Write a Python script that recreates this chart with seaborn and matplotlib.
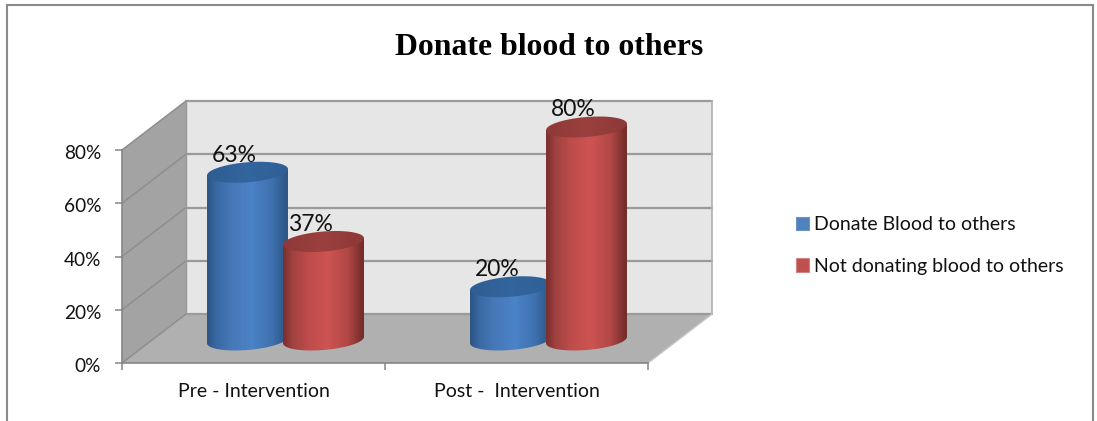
import numpy as np
import pandas as pd
import matplotlib
matplotlib.use("Agg")
import matplotlib.pyplot as plt
from matplotlib.colors import LinearSegmentedColormap
from matplotlib.patches import Polygon, Rectangle
from matplotlib.ticker import PercentFormatter
from matplotlib.transforms import ScaledTranslation
import seaborn as sns

phases = ["Pre - Intervention", "Post -  Intervention"]
donate = [0.63, 0.20]
not_donate = [0.37, 0.80]
series_names = ["Donate Blood to others", "Not donating blood to others"]
series_labels = [["63%", "20%"], ["37%", "80%"]]
y_ticks = [0, 0.2, 0.4, 0.6, 0.8]
title = "Donate blood to others"

sns.set_theme(style="white")
plt.rcParams["font.family"] = ["Lato", "DejaVu Sans"]

W, H = 1097, 421
fig = plt.figure(figsize=(W / 100, H / 100), dpi=100, facecolor="white")

def box(left, top, right, bottom):
    return [left / W, 1 - bottom / H, (right - left) / W, (bottom - top) / H]

# Front plane of the 3D box
ax = fig.add_axes(box(122, 150, 648, 363), zorder=1)
ax.set_xlim(-0.5, 1.5)
ax.set_ylim(0, 0.8)
ax.patch.set_visible(False)
px_x = 263.0
px_y = 266.25
dx, dy = 64 / px_x, 49 / px_y
x0, x1, ytop = -0.5, 1.5, 0.8
ax.add_patch(Polygon([(x0 + dx, dy), (x1 + dx, dy), (x1 + dx, ytop + dy), (x0 + dx, ytop + dy)],
                     fc="#e6e6e6", ec="none", clip_on=False, zorder=0.5))
ax.add_patch(Polygon([(x0, 0), (x0 + dx, dy), (x0 + dx, ytop + dy), (x0, ytop)],
                     fc="#a3a3a3", ec="none", clip_on=False, zorder=0.6))
ax.add_patch(Polygon([(x0, 0), (x0 + dx, dy), (x1 + dx, dy), (x1, 0)],
                     fc="#b0b0b0", ec="none", clip_on=False, zorder=0.6))
grid = "#9a9a9a"
for t in y_ticks:
    ax.plot([x0 + dx, x1 + dx], [t + dy, t + dy], color=grid, lw=1.6, clip_on=False, zorder=0.8)
    ax.plot([x0, x0 + dx], [t, t + dy], color="#8e8e8e", lw=1.1, clip_on=False, zorder=0.8)
ax.plot([x1 + dx, x1 + dx], [dy, ytop + dy], color="#b0b0b0", lw=1.2, clip_on=False, zorder=0.8)
ax.plot([x0 + dx, x0 + dx], [dy, ytop + dy], color="#9a9a9a", lw=1.0, clip_on=False, zorder=0.8)
ax.plot([x1, x1 + dx], [0, dy], color="#c4c4c4", lw=1.0, clip_on=False, zorder=0.8)

for s in ["top", "right"]:
    ax.spines[s].set_visible(False)
for s in ["left", "bottom"]:
    ax.spines[s].set_color("#858585")
    ax.spines[s].set_linewidth(1.2)
ax.set_yticks(y_ticks)
ax.yaxis.set_major_formatter(PercentFormatter(1.0, decimals=0))
ax.set_xticks([0, 1])
ax.set_xticklabels(phases)
ax.set_xticks([-0.5, 0.5, 1.5], minor=True)
ax.tick_params(axis="x", which="major", length=0, pad=14.5, labelsize=14, labelcolor="#111111")
ax.tick_params(axis="x", which="minor", length=5, width=1.1, color="#858585", bottom=True)
ax.tick_params(axis="y", length=5, width=1.1, color="#858585", left=True, pad=10,
               labelsize=13.7, labelcolor="#111111")
for lab in ax.get_yticklabels():
    lab.set_transform(lab.get_transform() + ScaledTranslation(0, -2 / 100, fig.dpi_scale_trans))

# Bars live in a transparent axes shifted half the box depth
base_y = 340
ax_b = fig.add_axes(box(122 + 32, base_y - 0.9 * px_y, 648 + 32, base_y + 0.1 * px_y), zorder=2)
df = pd.DataFrame({
    "phase": phases * 2,
    "value": donate + not_donate,
    "series": [series_names[0]] * 2 + [series_names[1]] * 2,
})
blue, red = "#4f81bd", "#c0504d"
sns.barplot(data=df, x="phase", y="value", hue="series", palette=[blue, red], saturation=1,
            width=0.578, gap=-0.065, ax=ax_b, edgecolor="none")
ax_b.set_xlim(-0.5, 1.5)
ax_b.set_ylim(-0.1, 0.9)

body_cmaps = [
    LinearSegmentedColormap.from_list("b", [(0, "#2b5484"), (0.12, "#3a6aa5"), (0.3, "#4778b8"),
                                            (0.55, "#4b83c7"), (0.8, "#3f72b0"), (1, "#2b5482")]),
    LinearSegmentedColormap.from_list("r", [(0, "#7a2f2d"), (0.12, "#a04240"), (0.3, "#bd4c4a"),
                                            (0.55, "#cd5452"), (0.8, "#b24846"), (1, "#702b29")]),
]
top_colors = [
    LinearSegmentedColormap.from_list("bt", ["#2f5d92", "#33659e", "#2f5f96"]),
    LinearSegmentedColormap.from_list("rt", ["#8e3a38", "#9b403e", "#8c3937"]),
]
b_y = 10.0 / px_y
tilt = 3.2 / px_y
grad = np.linspace(0, 1, 128)[None, :]
t_low = np.linspace(np.pi, 2 * np.pi, 60)
t_all = np.linspace(0, 2 * np.pi, 120)

for k, cont in enumerate(ax_b.containers):
    for j, rect in enumerate(cont):
        xl, w, v = rect.get_x(), rect.get_width(), rect.get_height()
        rect.set_visible(False)
        xc, a = xl + w / 2, w / 2
        z = 3 + k + 3 * j
        body = np.column_stack([xc + a * np.cos(t_low), b_y * np.sin(t_low) + tilt * np.cos(t_low)])
        body = np.vstack([body, [xc + a, v + tilt], [xc - a, v - tilt]])
        clip = Polygon(body, fc="none", ec="none", zorder=z)
        ax_b.add_patch(clip)
        im = ax_b.imshow(grad, extent=(xl, xl + w, -0.08, v + 0.05), cmap=body_cmaps[k],
                         aspect="auto", zorder=z, interpolation="bilinear")
        im.set_clip_path(clip)
        top = np.column_stack([xc + a * np.cos(t_all), v + b_y * np.sin(t_all) + tilt * np.cos(t_all)])
        clip2 = Polygon(top, fc="none", ec="none", zorder=z + 0.1)
        ax_b.add_patch(clip2)
        im2 = ax_b.imshow(grad, extent=(xl, xl + w, v - 0.06, v + 0.06), cmap=top_colors[k],
                          aspect="auto", zorder=z + 0.1, interpolation="bilinear")
        im2.set_clip_path(clip2)
        ax_b.annotate(series_labels[k][j], (xc, v), xytext=(-13, 10.5), textcoords="offset pixels",
                      ha="center", va="baseline", fontsize=16.5, color="#111111",
                      zorder=20, annotation_clip=False)
ax_b.set_xlim(-0.5, 1.5)
ax_b.set_ylim(-0.1, 0.9)
ax_b.axis("off")

sns.move_legend(ax_b, loc="center left", bbox_to_anchor=(796 / W, 1 - 245.5 / H),
                bbox_transform=fig.transFigure, frameon=False, title=None,
                fontsize=14, handlelength=0.67, handleheight=0.67,
                labelspacing=1.27, handletextpad=0.26, borderpad=0, borderaxespad=0,
                labelcolor="#111111")
for h in ax_b.get_legend().get_patches():
    h.set_edgecolor("#6f93c4" if h.get_facecolor()[2] > 0.5 else "#cf8482")
    h.set_linewidth(0.8)

fig.text(549.5 / W, 1 - 55 / H, title, ha="center", va="baseline", fontsize=22.9,
         fontweight="bold", family=["Liberation Serif"], color="black")

# Outer chart frame (runs off the bottom of the crop)
fig.add_artist(Rectangle((6.5 / W, -0.05), (1092.5 - 6.5) / W, 1.05 - 5.5 / H, fill=False,
                         ec="#8a8a8a", lw=1.5, transform=fig.transFigure))

fig.savefig("out.png", dpi=100)
